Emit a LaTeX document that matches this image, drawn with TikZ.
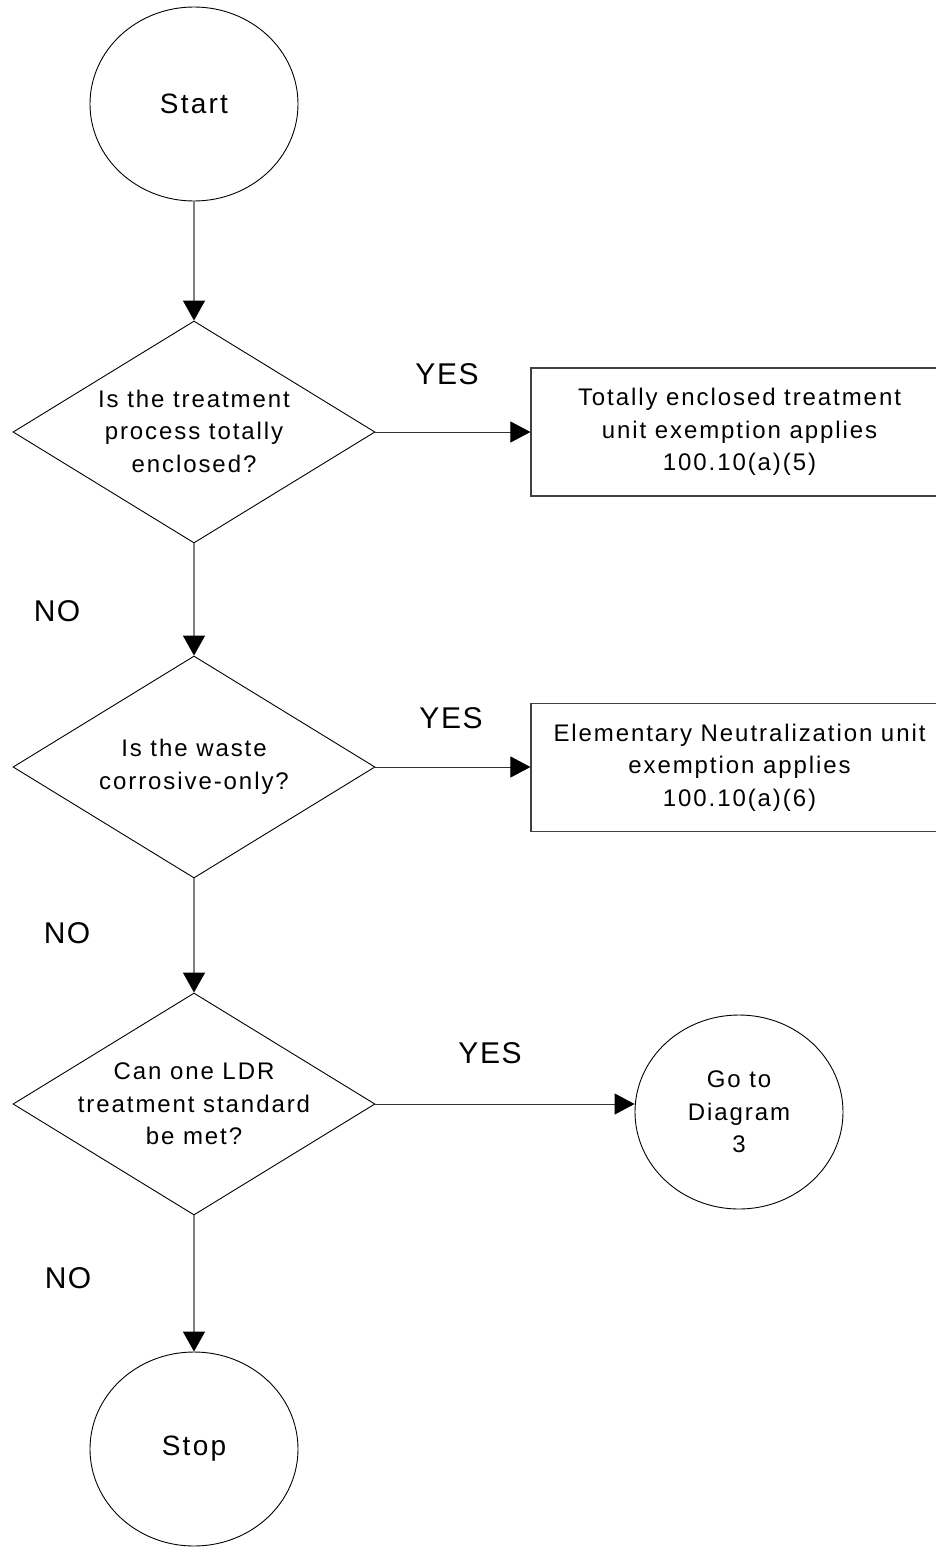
\documentclass[tikz,border=0pt]{standalone}
\usepackage{fontspec}
\setmainfont{Liberation Sans}[LetterSpace=8]
\newfontfamily\lblfont{Liberation Sans}[LetterSpace=5]
\usetikzlibrary{shapes.geometric,arrows.meta}
\begin{document}
\begin{tikzpicture}[x=1pt,y=-1pt,
  term/.style={ellipse,draw=black,line width=0.9pt,minimum width=208pt,minimum height=194pt,inner sep=0pt,align=center,font=\fontsize{24}{32.5}\selectfont},
  dia/.style={diamond,draw=black,line width=0.9pt,minimum width=362pt,minimum height=222pt,inner sep=0pt},
  qtext/.style={align=center,font=\fontsize{24}{32.5}\selectfont,inner sep=0pt},
  outbox/.style={rectangle,draw=black!75,line width=1.1pt,minimum width=417pt,minimum height=128pt,inner sep=0pt,align=center,font=\fontsize{24}{32.5}\selectfont},
  lbl/.style={font=\lblfont\fontsize{30}{36}\selectfont,inner sep=0pt},
  vflow/.style={draw=black!50,line width=1.4pt,-{Triangle[length=20pt,width=22pt,color=black]}},
  hflow/.style={draw=black!80,line width=1pt,-{Triangle[length=20pt,width=21pt,color=black]}}
]
\useasboundingbox (0,0) rectangle (936,1547);
\node[term,font=\fontsize{28}{34}\selectfont] (start) at (194,104) {Start};
\node[dia] (d1) at (194,432) {};
\node[qtext] (d1t) at (194,431) {Is the treatment\\process totally\\enclosed?};
\node[outbox] (b1) at (739.5,432) {Totally enclosed treatment\\unit exemption applies\\100.10(a)(5)};
\node[dia] (d2) at (194,767) {};
\node[qtext] (d2t) at (194,767) {Is the waste\\corrosive-only?};
\node[outbox] (b2) at (739.5,767.5) {Elementary Neutralization unit\\exemption applies\\100.10(a)(6)};
\node[dia] (d3) at (194,1104) {};
\node[qtext] (d3t) at (194,1104) {Can one LDR\\treatment standard\\be met?};
\node[term] (goto) at (739,1112) {Go to\\Diagram\\3};
\node[term,font=\fontsize{28}{34}\selectfont] (stop) at (194,1449) {Stop};
\node[lbl] (y1) at (447,374) {YES};
\node[lbl] (y2) at (451,718) {YES};
\node[lbl] (y3) at (490,1053) {YES};
\node[lbl] (n1) at (57,611) {NO};
\node[lbl] (n2) at (67,933) {NO};
\node[lbl] (n3) at (68,1278) {NO};
\draw[vflow] (start) -- (d1);
\draw[hflow] (d1.east) -- (d1.east -| b1.west);
\draw[vflow] (d1) -- (d2);
\draw[hflow] (d2.east) -- (d2.east -| b2.west);
\draw[vflow] (d2) -- (d3);
\draw[hflow] (d3.east) -- (d3.east -| goto.west);
\draw[vflow] (d3) -- (stop);
\end{tikzpicture}
\end{document}
